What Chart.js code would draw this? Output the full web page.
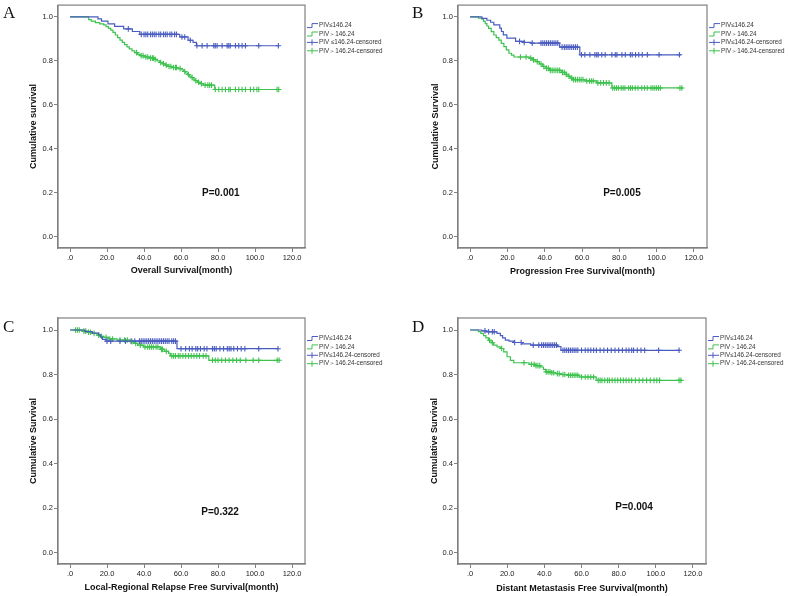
<!DOCTYPE html>
<html>
<head>
<meta charset="utf-8">
<script src="https://cdn.jsdelivr.net/npm/chart.js@4"></script>
<style>
  body { margin: 0; background: #fff; }
  #wrap { position: relative; width: 789px; height: 596px; }
  canvas { position: absolute; }
</style>
</head>
<body>
<div id="wrap">
  <canvas id="chartA" width="395" height="296" style="left:0;top:0"></canvas>
  <canvas id="chartB" width="394" height="296" style="left:395px;top:0"></canvas>
  <canvas id="chartC" width="395" height="300" style="left:0;top:296px"></canvas>
  <canvas id="chartD" width="394" height="300" style="left:395px;top:296px"></canvas>
</div>
<script>
// axis ticks
var xTicks = [0, 20, 40, 60, 80, 100, 120];
var yTicks = [0, 0.2, 0.4, 0.6, 0.8, 1.0];
var legendLabels = ['PIV≤146.24', 'PIV＞146.24', 'PIV≤146.24-censored', 'PIV＞146.24-censored'];
var legendLabelsA = ['PIV≤146.24', 'PIV＞146.24', 'PIV ≤146.24-censored', 'PIV＞146.24-censored'];

// A - overall survival
var aLowT = [0, 15.1, 17, 20.5, 24.1, 29, 33.7, 37.7, 59.3, 63.8, 66.5, 68.3, 112.6];
var aLowS = [1, 0.991, 0.981, 0.969, 0.957, 0.946, 0.934, 0.921, 0.909, 0.894, 0.884, 0.869, 0.869];
var aLowCens = [31.5, 38.5, 40, 41, 42, 43.5, 44.5, 45.5, 46.5, 48, 49, 50.5, 51.5, 52.5, 54, 55, 56.5, 57.5, 60.5, 62, 65, 68.6, 71.4, 74.1, 77.7, 78.5, 79.5, 82.2, 84.9, 85.8, 86.6, 89.4, 91.2, 93, 94.8, 102, 112.6];
var aHighT = [0, 10.1, 11.5, 13.7, 16, 18.2, 19.5, 20.8, 22, 23.2, 24.5, 25.7, 27, 28.2, 29.5, 30.8, 32, 33.5, 35, 36.5, 38, 40, 43, 45.5, 47, 48.5, 50, 51.5, 53, 55, 58.5, 60.5, 61.5, 62.5, 63.5, 64.5, 65.5, 66.5, 67.5, 69, 70.5, 72, 78.2, 113.5];
var aHighS = [1, 0.988, 0.981, 0.974, 0.969, 0.964, 0.956, 0.948, 0.94, 0.93, 0.918, 0.906, 0.895, 0.884, 0.874, 0.864, 0.855, 0.846, 0.838, 0.83, 0.824, 0.818, 0.813, 0.807, 0.8, 0.793, 0.787, 0.781, 0.775, 0.77, 0.765, 0.759, 0.752, 0.745, 0.738, 0.731, 0.724, 0.717, 0.71, 0.703, 0.697, 0.69, 0.67, 0.67];
var aHighCens = [36, 38.5, 39.5, 41, 42, 43.5, 44.5, 45, 46, 49, 50.5, 52, 53.5, 54.5, 56, 57, 57.5, 59.5, 62, 64, 66, 68, 69.5, 71, 73, 74.5, 75.5, 76.5, 78.5, 80.4, 82.2, 84, 85.8, 86.6, 89.4, 91.2, 93, 94.8, 97.5, 99.3, 101, 102, 111.9, 112.8];

// B - progression free survival
var bLowT = [0, 6.3, 9, 11, 12.7, 15.9, 16.8, 17.8, 19.7, 24.4, 29, 32.6, 48, 58.8, 113];
var bLowS = [1, 0.994, 0.985, 0.976, 0.964, 0.949, 0.934, 0.919, 0.904, 0.889, 0.884, 0.881, 0.863, 0.828, 0.828];
var bLowCens = [26.5, 29, 33.3, 38, 39, 40, 41, 42, 43, 44, 45, 46, 47, 49.3, 50.5, 51.5, 52.5, 53.5, 54.5, 55.5, 56.5, 57.5, 59.7, 61.5, 64.2, 66.9, 67.9, 68.7, 70.6, 72.4, 76, 77.8, 78.7, 81.4, 83.2, 85.9, 86.9, 88.7, 90.4, 92.3, 95, 101.3, 112.2];
var bHighT = [0, 4.5, 6.3, 7.2, 8.1, 9, 9.9, 11.3, 12.7, 14, 15.4, 16.7, 18.1, 19.4, 20.8, 22.2, 23.5, 31.7, 33.5, 35.3, 37.1, 38.9, 40.7, 42.5, 48.9, 50.7, 52.5, 54, 55.2, 61.5, 67.9, 76, 114];
var bHighS = [1, 0.995, 0.99, 0.98, 0.97, 0.959, 0.948, 0.933, 0.918, 0.906, 0.895, 0.88, 0.865, 0.85, 0.835, 0.826, 0.818, 0.813, 0.805, 0.797, 0.786, 0.775, 0.766, 0.757, 0.748, 0.739, 0.73, 0.722, 0.715, 0.709, 0.7, 0.677, 0.677];
var bHighCens = [27, 30, 32.5, 34, 36, 38, 39.5, 41, 42, 43, 44, 45, 46, 47, 48, 49.5, 50.5, 51.5, 53, 54.5, 55.5, 56.5, 57.5, 58.5, 59.5, 60.5, 62.5, 64, 65, 66, 68.5, 70, 71.5, 73, 74.5, 76.5, 77.5, 78.5, 79.5, 81, 82, 83, 85, 86, 87, 88.5, 90, 92, 93.5, 95, 97, 98, 99, 100, 101, 102, 112.5, 113.5];

// C - local-regional relapse free survival
var cLowT = [0, 8, 12, 15.5, 16.5, 17.5, 19.5, 57.8, 112.4];
var cLowS = [1, 0.993, 0.986, 0.978, 0.968, 0.958, 0.95, 0.916, 0.916];
var cLowCens = [20, 22, 27, 30, 33, 35, 37.5, 38.5, 39.5, 40.5, 41.5, 42.5, 43.5, 44.5, 45.5, 46.5, 47.5, 48.5, 49.5, 50.5, 51.5, 52.5, 53.5, 55, 56, 57, 60, 62.5, 64.5, 66, 68, 69, 70.5, 72.5, 74, 77, 78, 79, 81, 83, 85, 86, 87, 88.5, 90.5, 92.5, 94.5, 102, 112.4];
var cHighT = [0, 6.5, 9.2, 11.9, 14.6, 16.4, 18.2, 20.9, 25.4, 32.6, 34.4, 36.5, 39.8, 48.8, 51, 53.3, 54.2, 75, 113.5];
var cHighS = [1, 0.995, 0.99, 0.985, 0.977, 0.972, 0.967, 0.96, 0.955, 0.948, 0.94, 0.932, 0.924, 0.913, 0.904, 0.895, 0.884, 0.864, 0.864];
var cHighCens = [3, 4, 5, 7.5, 8.5, 10, 11, 13, 15.5, 17, 19.5, 21.5, 23, 27, 29.5, 31, 33.5, 35.5, 38, 40.5, 42, 43, 44, 45, 46.5, 47.5, 49.5, 50, 52, 55, 56, 57, 58.5, 59.5, 61, 62.5, 64, 65.5, 67, 68.5, 70, 72, 73.5, 77, 78.5, 80, 82, 84, 86, 88, 90, 92, 95, 99, 102, 112, 113];

// D - distant metastasis free survival
var dLowT = [0, 6.3, 8.5, 14.5, 16.3, 17.5, 19, 21, 23.5, 28, 32.6, 47, 48.9, 113];
var dLowS = [1, 0.996, 0.992, 0.985, 0.975, 0.965, 0.955, 0.95, 0.944, 0.938, 0.932, 0.925, 0.909, 0.909];
var dLowCens = [8, 10, 12, 13, 24, 27.5, 34, 37, 38.5, 39.5, 40.5, 41.5, 42.5, 43.5, 44.5, 45.5, 46.5, 50, 51, 52, 53, 54, 55, 56, 57, 58, 60, 62, 63.5, 65, 66.5, 68, 70, 72, 74, 76, 78, 80, 82, 84, 85.5, 87, 88, 90, 92, 94, 101.5, 112.5];
var dHighT = [0, 4.5, 5.8, 7.2, 8.5, 9.9, 11.3, 12.7, 14.5, 16.3, 18.1, 19.9, 21.7, 23.5, 31.7, 35, 38, 39.5, 40.7, 43.5, 46.1, 49, 52.4, 58.8, 67.9, 114];
var dHighS = [1, 0.993, 0.985, 0.975, 0.965, 0.954, 0.943, 0.932, 0.924, 0.917, 0.902, 0.88, 0.864, 0.853, 0.846, 0.84, 0.834, 0.823, 0.812, 0.808, 0.804, 0.8, 0.797, 0.789, 0.774, 0.774];
var dHighCens = [10.5, 12, 17, 29, 33, 34.5, 35.5, 36.5, 37.5, 41, 42, 43, 44, 45, 47, 48, 50, 51, 53, 54, 55, 56, 57, 58, 60, 62, 63.5, 65, 66.5, 69, 70, 71, 72.5, 74, 75, 76.5, 78, 79.5, 81, 82.5, 84, 85.5, 87, 89, 91, 93, 95, 97, 99, 100.5, 102, 112.5, 113.5];

var BLUE = '#4a5cc0';
var GREEN = '#3ec24f';
var BOX = '#808080';

Chart.defaults.font.family = '"Liberation Sans", Arial, sans-serif';

function stepPoints(times, surv) {
  return times.map(function (t, i) { return { x: t, y: surv[i] }; });
}

// survival value of the step curve at time t
function survivalAt(t, times, surv) {
  var s = surv[0];
  for (var i = 0; i < times.length; i++) {
    if (times[i] <= t) s = surv[i];
  }
  return s;
}

function censorPoints(cens, times, surv) {
  return cens.map(function (t) { return { x: t, y: survivalAt(t, times, surv) }; });
}

var panelPlugin = {
  id: 'panelExtras',
  afterDraw: function (chart) {
    var p = chart.options.plugins.panelExtras;
    var ctx = chart.ctx;
    var a = chart.chartArea;
    ctx.save();
    // plot frame
    ctx.strokeStyle = BOX;
    ctx.lineWidth = 1.2;
    ctx.strokeRect(a.left, a.top, a.right - a.left, a.bottom - a.top);

    // legend
    var colors = [BLUE, GREEN, BLUE, GREEN];
    ctx.font = '6.3px "Liberation Sans", Arial, sans-serif';
    ctx.textBaseline = 'middle';
    ctx.textAlign = 'left';
    for (var i = 0; i < 4; i++) {
      var y = a.top + 20.5 + i * 8.4;
      var x0 = a.right + 2;
      ctx.strokeStyle = colors[i];
      ctx.lineWidth = 1;
      ctx.beginPath();
      if (i < 2) {
        ctx.moveTo(x0, y + 2);
        ctx.lineTo(x0 + 5, y + 2);
        ctx.lineTo(x0 + 5, y - 2);
        ctx.lineTo(x0 + 11, y - 2);
      } else {
        ctx.moveTo(x0, y);
        ctx.lineTo(x0 + 11, y);
        ctx.moveTo(x0 + 5, y - 3);
        ctx.lineTo(x0 + 5, y + 3);
      }
      ctx.stroke();
      ctx.fillStyle = '#333';
      ctx.fillText(p.legend[i], x0 + 12, y);
    }

    // p value
    ctx.fillStyle = '#111';
    ctx.textAlign = 'center';
    ctx.font = 'bold 10px "Liberation Sans", Arial, sans-serif';
    ctx.fillText(p.pText, chart.scales.x.getPixelForValue(p.pAt[0]), chart.scales.y.getPixelForValue(p.pAt[1]));

    // panel letter
    ctx.textAlign = 'left';
    ctx.textBaseline = 'alphabetic';
    ctx.font = '17px "Liberation Serif", "Times New Roman", serif';
    ctx.fillText(p.letter, p.letterX, p.letterY);
    ctx.restore();
  }
};

function makeChart(id, p) {
  var W = p.width, H = p.height;
  new Chart(document.getElementById(id), {
    type: 'scatter',
    data: {
      datasets: [
        { data: stepPoints(p.lowT, p.lowS), showLine: true, stepped: true, borderColor: BLUE, borderWidth: 1.2, pointRadius: 0 },
        { data: stepPoints(p.highT, p.highS), showLine: true, stepped: true, borderColor: GREEN, borderWidth: 1.2, pointRadius: 0 },
        { data: censorPoints(p.lowCens, p.lowT, p.lowS), showLine: false, pointStyle: 'cross', pointRadius: 2.8, borderColor: BLUE, borderWidth: 1.1 },
        { data: censorPoints(p.highCens, p.highT, p.highS), showLine: false, pointStyle: 'cross', pointRadius: 2.8, borderColor: GREEN, borderWidth: 1.1 }
      ]
    },
    options: {
      responsive: false,
      animation: false,
      devicePixelRatio: 1,
      layout: { padding: { left: 0, top: p.area.t, right: W - p.area.r, bottom: 0 } },
      plugins: {
        legend: { display: false },
        tooltip: { enabled: false },
        panelExtras: { legend: p.legend, pText: p.pText, pAt: p.pAt, letter: p.letter, letterX: p.letterX, letterY: p.letterY }
      },
      scales: {
        x: {
          type: 'linear', min: -6.5, max: 127,
          afterBuildTicks: function (s) { s.ticks = xTicks.map(function (v) { return { value: v }; }); },
          afterFit: function (s) { s.height = H - p.area.b; s.paddingLeft = 0; s.paddingRight = 0; },
          ticks: {
            autoSkip: false, maxRotation: 0, padding: 1, color: '#222',
            font: { size: 7.5 },
            callback: function (v) { return v === 0 ? '.0' : v.toFixed(1); }
          },
          grid: { drawOnChartArea: false, tickLength: 4, color: BOX },
          border: { color: BOX, width: 1.2 },
          title: { display: true, text: p.xTitle, color: '#111', font: { size: 9, weight: 'bold' }, padding: { top: 0, bottom: p.xTitlePad } }
        },
        y: {
          type: 'linear', min: -0.051, max: 1.054,
          afterBuildTicks: function (s) { s.ticks = yTicks.map(function (v) { return { value: v }; }); },
          afterFit: function (s) { s.width = p.area.l; s.paddingTop = 0; s.paddingBottom = 0; },
          ticks: {
            padding: 1, color: '#222',
            font: { size: 7.5 },
            callback: function (v) { return v.toFixed(1); }
          },
          grid: { drawOnChartArea: false, tickLength: 4, color: BOX },
          border: { color: BOX, width: 1.2 },
          title: { display: true, text: p.yTitle, color: '#111', font: { size: 9, weight: 'bold' }, padding: { top: p.yTitlePad, bottom: 0 } }
        }
      }
    },
    plugins: [panelPlugin]
  });
}

makeChart('chartA', {
  width: 395, height: 296, area: { l: 58, t: 3, r: 305, b: 248 },
  lowT: aLowT, lowS: aLowS, lowCens: aLowCens, highT: aHighT, highS: aHighS, highCens: aHighCens,
  xTitle: 'Overall Survival(month)', yTitle: 'Cumulative survival',
  xTitlePad: 19.6, yTitlePad: 28.6,
  legend: legendLabelsA, pText: 'P=0.001', pAt: [81.5, 0.196],
  letter: 'A', letterX: 3, letterY: 18
});
makeChart('chartB', {
  width: 394, height: 296, area: { l: 63, t: 3, r: 312, b: 248 },
  lowT: bLowT, lowS: bLowS, lowCens: bLowCens, highT: bHighT, highS: bHighS, highCens: bHighCens,
  xTitle: 'Progression Free Survival(month)', yTitle: 'Cumulative Survival',
  xTitlePad: 18.9, yTitlePad: 35.1,
  legend: legendLabels, pText: 'P=0.005', pAt: [81.4, 0.196],
  letter: 'B', letterX: 17, letterY: 18
});
makeChart('chartC', {
  width: 395, height: 300, area: { l: 58, t: 22, r: 305, b: 268 },
  lowT: cLowT, lowS: cLowS, lowCens: cLowCens, highT: cHighT, highS: cHighS, highCens: cHighCens,
  xTitle: 'Local-Regional Relapse Free Survival(month)', yTitle: 'Cumulative Survival',
  xTitlePad: 2.6, yTitlePad: 28.6,
  legend: legendLabels, pText: 'P=0.322', pAt: [81.1, 0.18],
  letter: 'C', letterX: 3, letterY: 36
});
makeChart('chartD', {
  width: 394, height: 300, area: { l: 63, t: 22, r: 311, b: 268 },
  lowT: dLowT, lowS: dLowS, lowCens: dLowCens, highT: dHighT, highS: dHighS, highCens: dHighCens,
  xTitle: 'Distant Metastasis Free Survival(month)', yTitle: 'Cumulative Survival',
  xTitlePad: 2.3, yTitlePad: 34.1,
  legend: legendLabels, pText: 'P=0.004', pAt: [88.3, 0.203],
  letter: 'D', letterX: 17, letterY: 36
});
</script>
</body>
</html>
